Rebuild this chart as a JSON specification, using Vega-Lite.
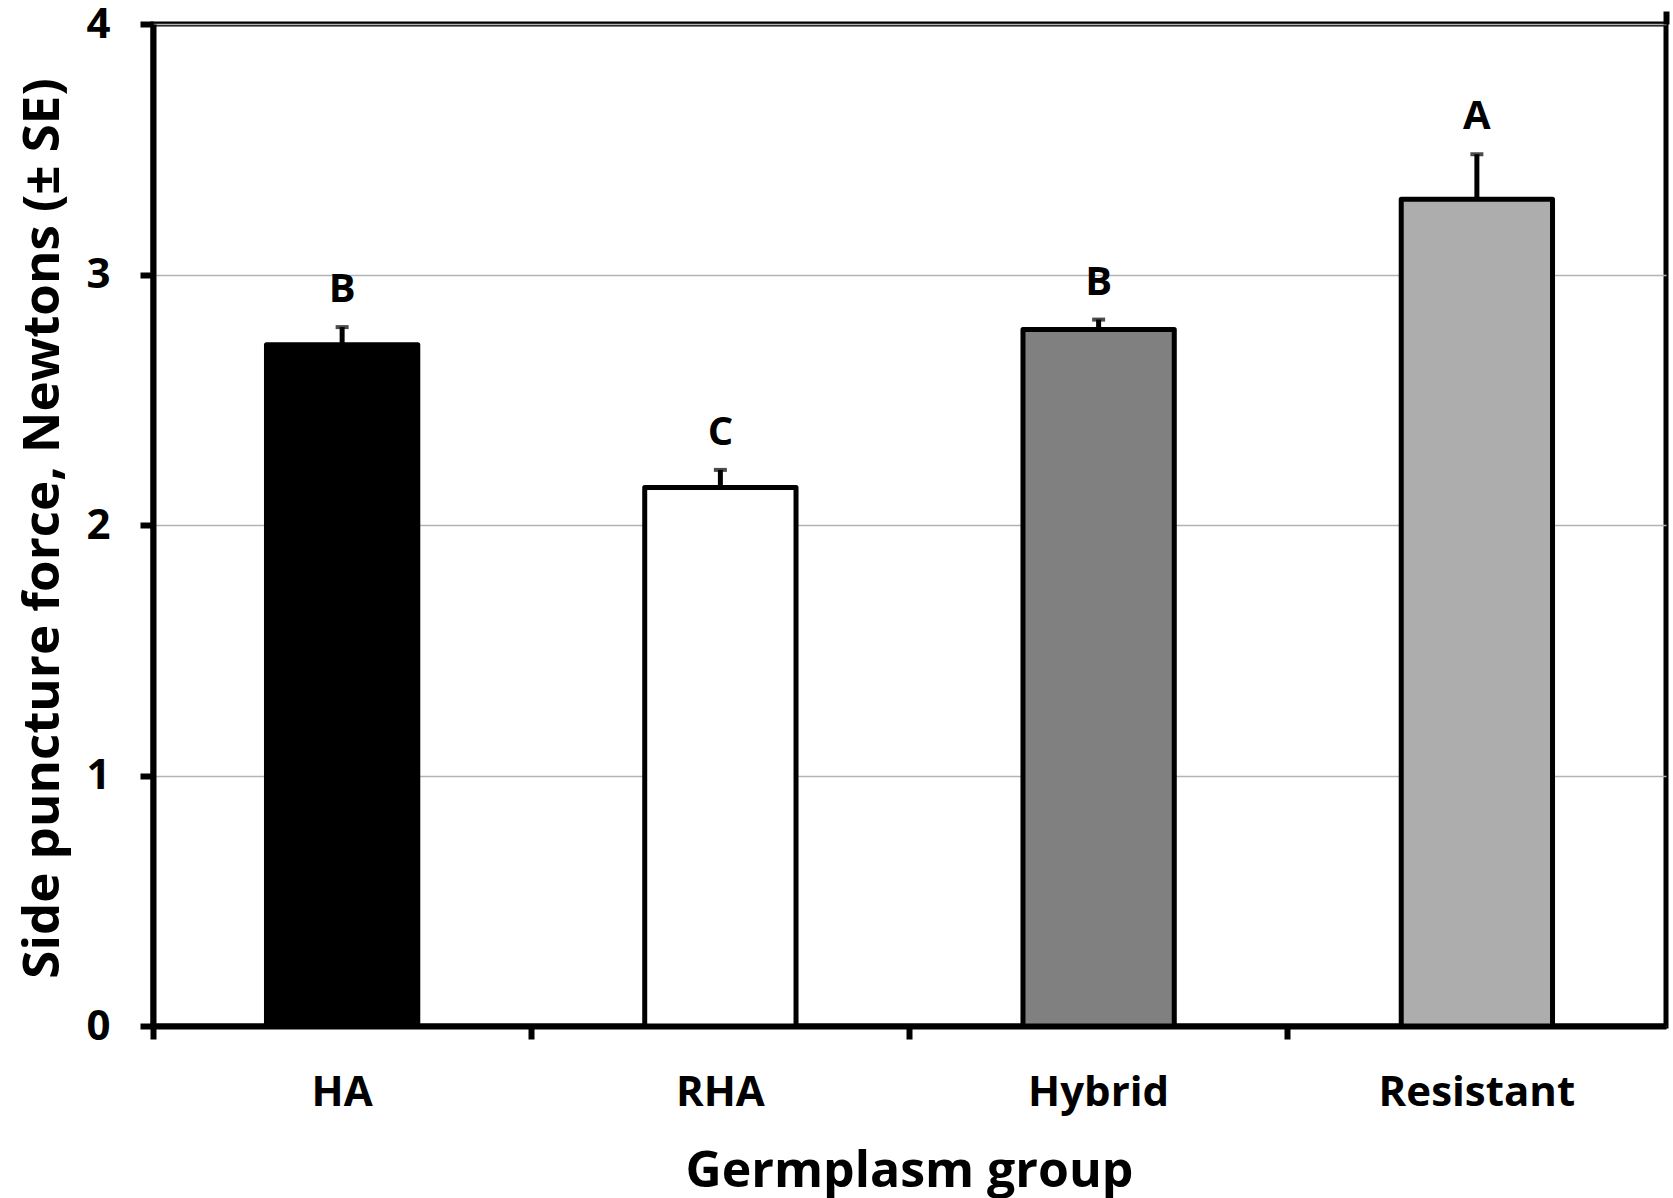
{
  "$schema": "https://vega.github.io/schema/vega-lite/v6.json",
  "width": 1513,
  "height": 1002,
  "autosize": {"type": "none"},
  "padding": {"left": 153, "top": 24, "right": 7, "bottom": 172},
  "background": "white",
  "config": {
    "view": {"stroke": "black", "strokeWidth": 5},
    "font": "Open Sans",
    "axis": {"domainColor": "black", "domainWidth": 6, "tickColor": "black", "tickWidth": 6, "tickSize": 13, "labelFont": "Open Sans", "labelFontWeight": "bold", "labelColor": "black", "titleFont": "Open Sans", "titleFontWeight": "bold", "titleColor": "black", "labelLimit": 0}
  },
  "data": {
    "values": [
      {"group": "HA", "mean": 2.72, "upper": 2.79, "letter": "B"},
      {"group": "RHA", "mean": 2.15, "upper": 2.22, "letter": "C"},
      {"group": "Hybrid", "mean": 2.78, "upper": 2.82, "letter": "B"},
      {"group": "Resistant", "mean": 3.30, "upper": 3.48, "letter": "A"}
    ]
  },
  "resolve": {"axis": {"x": "independent"}},
  "layer": [
    {
      "mark": {"type": "bar", "width": {"band": 0.4}, "stroke": "black", "strokeWidth": 5, "strokeJoin": "round"},
      "encoding": {
        "x": {"field": "group", "type": "nominal", "sort": ["HA", "RHA", "Hybrid", "Resistant"],
              "scale": {"paddingInner": 0, "paddingOuter": 0},
              "axis": {"bandPosition": 0, "labelAngle": 0, "labelFontSize": 42, "labelPadding": 53, "labelBaseline": "middle", "labelLimit": 0,
                       "title": "Germplasm group", "titleFontSize": 50, "titleX": 756, "titleY": 145, "titleBaseline": "middle", "grid": false}},
        "y": {"field": "mean", "type": "quantitative",
              "scale": {"domain": [0, 4], "nice": false},
              "axis": {"values": [0, 1, 2, 3, 4], "format": "d", "labelFontSize": 42, "labelPadding": 30, "tickSize": 13, "grid": true, "gridColor": "#b3b3b3", "gridWidth": 1.5,
                       "title": "Side puncture force, Newtons (± SE)", "titleFontSize": 51, "titleX": -110, "titleY": 504, "titleBaseline": "middle", "titleAngle": -90, "titleAlign": "center"}},
        "fill": {"field": "group", "type": "nominal", "legend": null,
                 "scale": {"domain": ["HA", "RHA", "Hybrid", "Resistant"], "range": ["#000000", "#ffffff", "#808080", "#adadad"]}}
      }
    },
    {
      "mark": {"type": "rule", "stroke": "black", "strokeWidth": 5},
      "encoding": {
        "x": {"field": "group", "type": "nominal", "sort": ["HA", "RHA", "Hybrid", "Resistant"],
              "axis": {"bandPosition": 1, "values": ["Resistant"], "labels": false, "domain": false, "title": null, "grid": false, "tickSize": 13, "tickWidth": 6}},
        "y": {"field": "mean", "type": "quantitative"},
        "y2": {"field": "upper"}
      }
    },
    {
      "mark": {"type": "tick", "color": "black", "orient": "horizontal", "size": 13, "thickness": 4},
      "encoding": {
        "x": {"field": "group", "type": "nominal", "sort": ["HA", "RHA", "Hybrid", "Resistant"], "axis": null},
        "y": {"field": "upper", "type": "quantitative"}
      }
    },
    {
      "mark": {"type": "text", "fontSize": 40, "fontWeight": "bold", "font": "Open Sans", "color": "black", "baseline": "middle", "dy": -37},
      "encoding": {
        "x": {"field": "group", "type": "nominal", "sort": ["HA", "RHA", "Hybrid", "Resistant"], "axis": null},
        "y": {"field": "upper", "type": "quantitative"},
        "text": {"field": "letter"}
      }
    }
  ]
}
